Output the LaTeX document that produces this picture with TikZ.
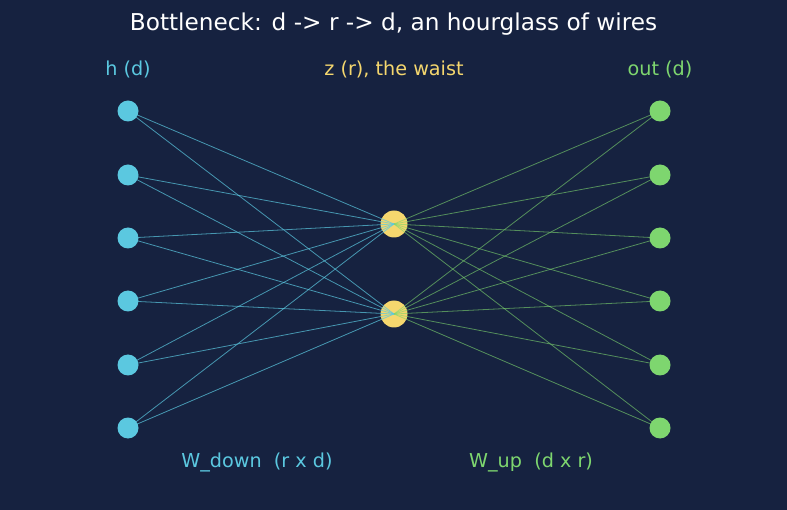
\documentclass[tikz,border=0pt]{standalone}
\usepackage{fontspec}
\setmainfont{DejaVu Sans}
\usetikzlibrary{positioning}
\definecolor{bgnavy}{HTML}{162240}
\definecolor{hcyan}{HTML}{5BC8E0}
\definecolor{zyellow}{HTML}{F5D76E}
\definecolor{ogreen}{HTML}{7ED66F}

\begin{document}
\begin{tikzpicture}[x=1pt, y=-1pt] % Styles
\tikzstyle{hnode}=[circle, fill=hcyan, minimum size=21pt, inner sep=0pt]
\tikzstyle{znode}=[circle, fill=zyellow, minimum size=27pt, inner sep=0pt]
\tikzstyle{onode}=[circle, fill=ogreen, minimum size=21pt, inner sep=0pt]
\tikzstyle{downwire}=[hcyan, opacity=0.7, line width=0.8pt]
\tikzstyle{upwire}=[ogreen, opacity=0.6, line width=0.8pt]
\tikzstyle{lbl}=[font=\fontsize{19.2}{23}\selectfont]
\fill[bgnavy] (0,0) rectangle (787,510); % Nodes
\node[text=white, font=\fontsize{23.2}{28}\selectfont] (title) at (393.5,24) {Bottleneck: d -> r -> d, an hourglass of wires};
\foreach \i/\y in {1/111, 2/175, 3/238, 4/301, 5/365, 6/428} {
  \node[hnode] (h\i) at (128,\y) {};
  \node[onode] (o\i) at (660,\y) {};
}
\node[znode] (z1) at (394,224) {};
\node[znode] (z2) at (394,314) {}; % Wires
\foreach \i in {1,...,6} {
  \foreach \j in {1,2} {
    \draw[downwire] (h\i.center) -- (z\j.center);
    \draw[upwire] (z\j.center) -- (o\i.center);
  }
} % Labels
\node[lbl, text=hcyan] (hlbl) at (128,69) {h (d)};
\node[lbl, text=zyellow] (zlbl) at (394,69) {z (r), the waist};
\node[lbl, text=ogreen] (olbl) at (660,69) {out (d)};
\node[lbl, text=hcyan] (wdown) at (257,462) {W\_down~~(r x d)};
\node[lbl, text=ogreen] (wup) at (531,462) {W\_up~~(d x r)};
\end{tikzpicture}
\end{document}
